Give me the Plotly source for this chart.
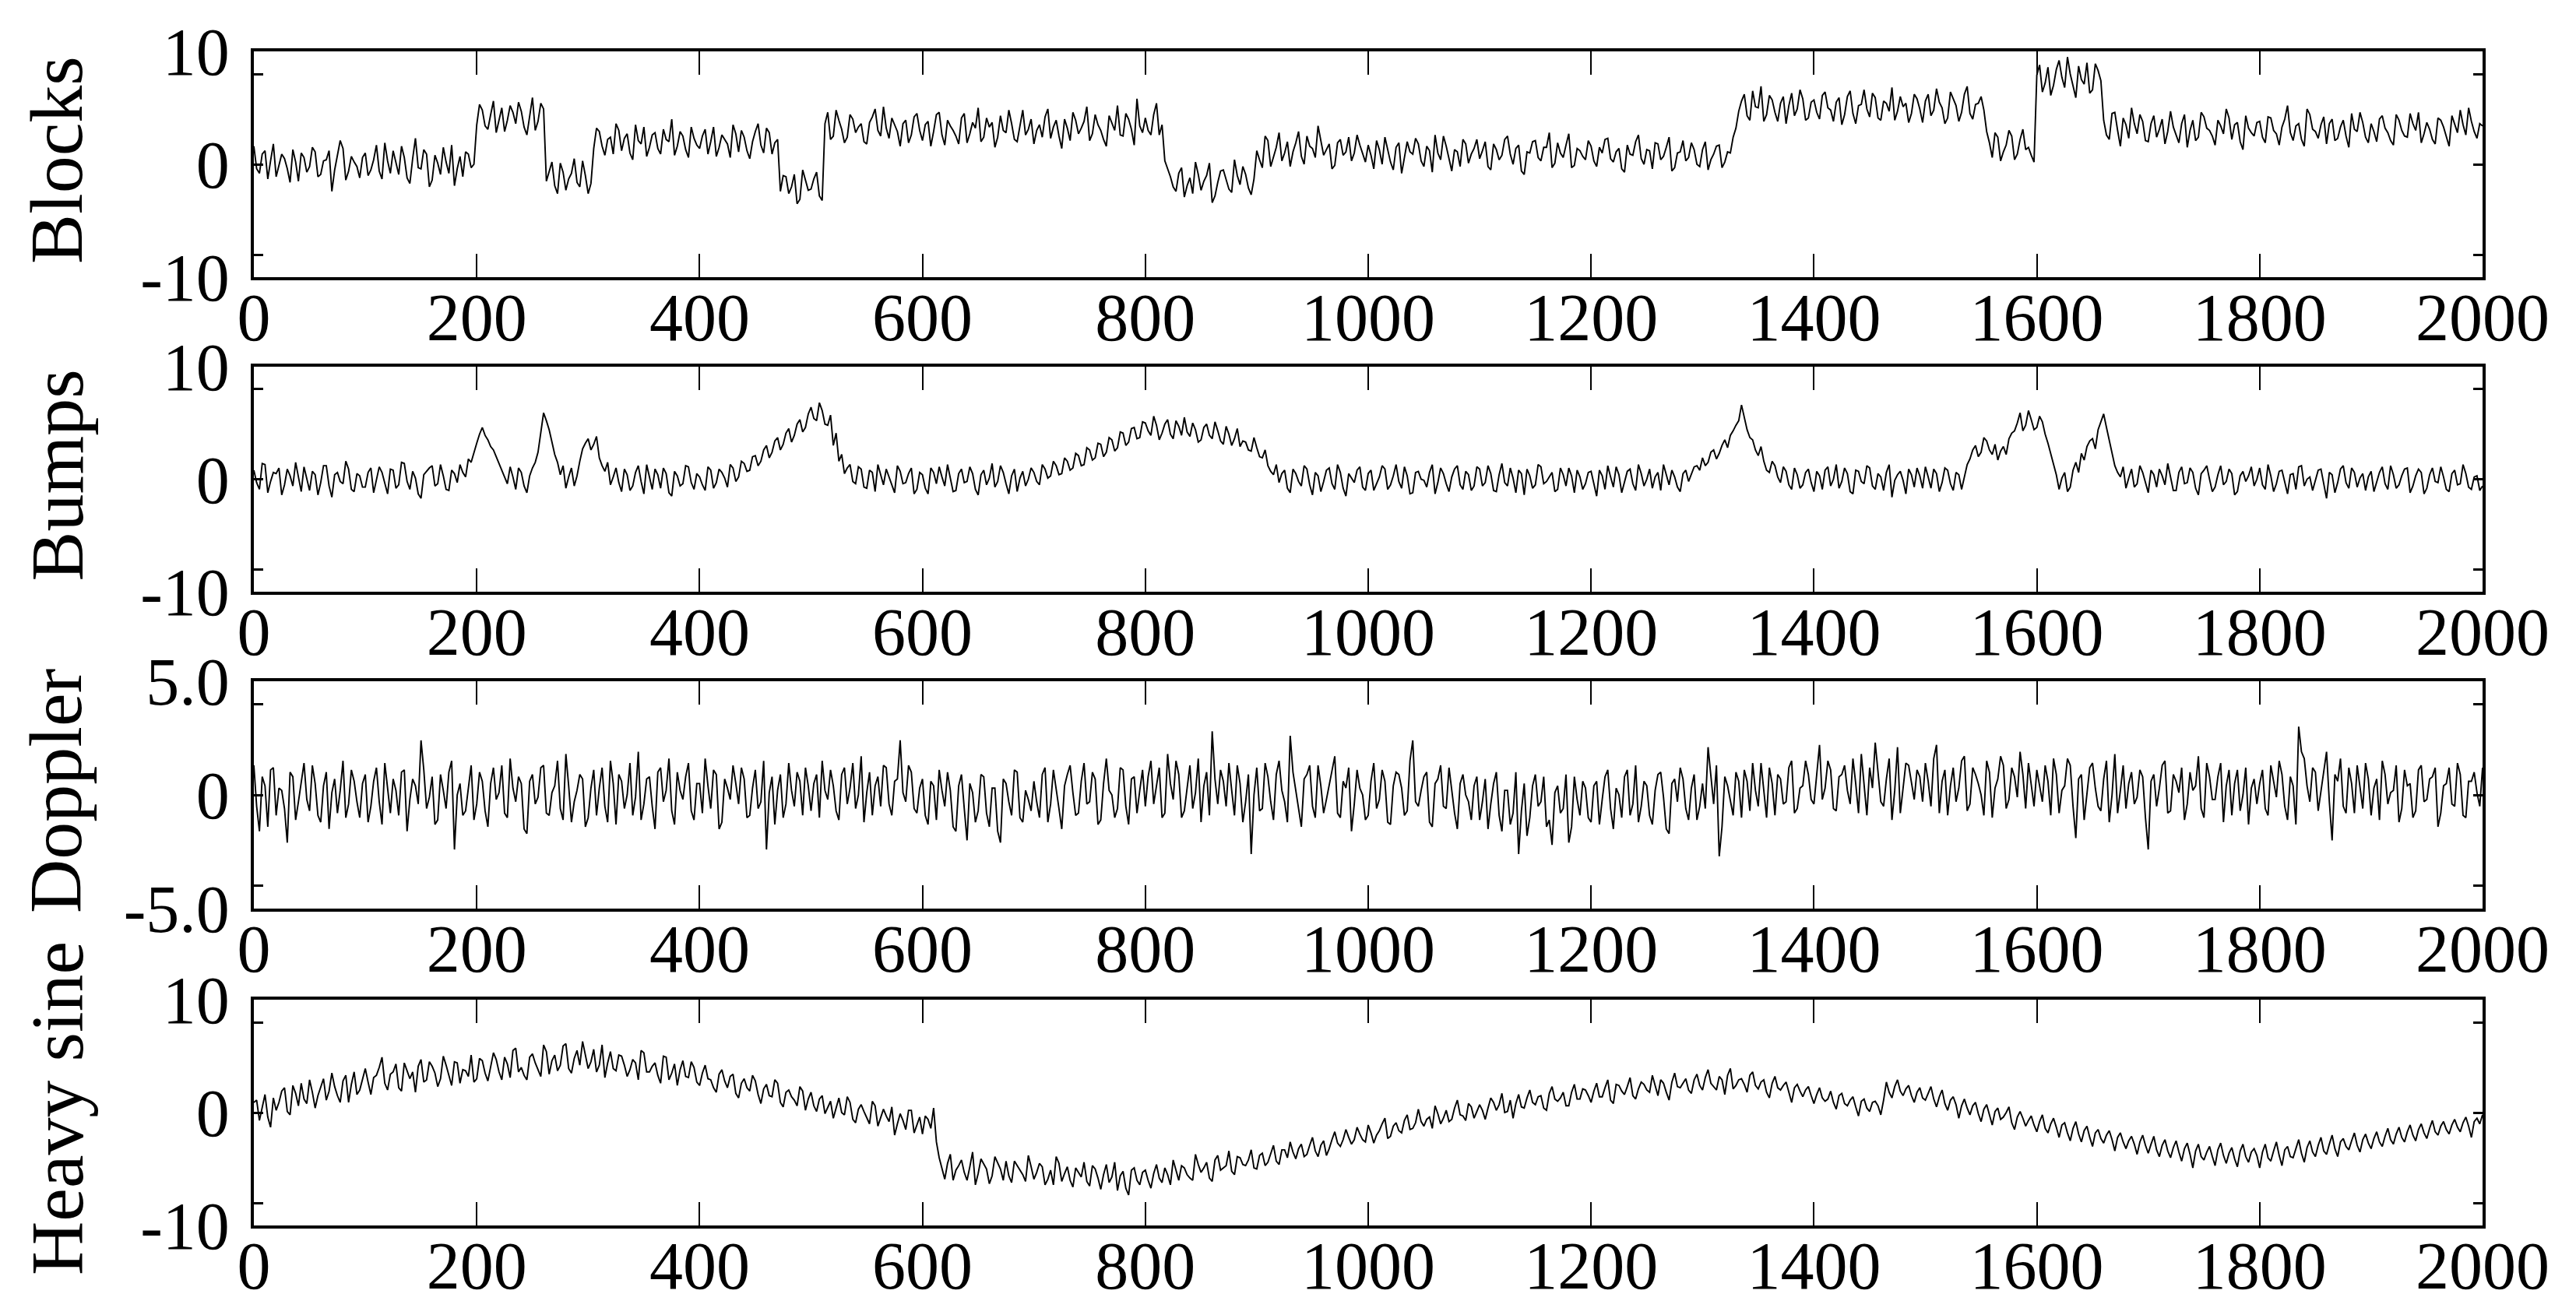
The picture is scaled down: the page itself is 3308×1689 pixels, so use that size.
import plotly.graph_objects as go

# ---------------- data ----------------
# samples at x = 0, 5, 10, ... 2000 ("_a") and at x = 2.5, 7.5, ... 1997.5 ("_b")
x_a = list(range(0, 2001, 5))
x_b = [v + 2.5 for v in range(0, 2000, 5)]

x_tick_vals = [0, 200, 400, 600, 800, 1000, 1200, 1400, 1600, 1800, 2000]
x_tick_text = ["0", "200", "400", "600", "800", "1000", "1200", "1400", "1600", "1800", "2000"]

panel_names = ["Blocks", "Bumps", "Doppler", "Heavy sine"]
y_ranges = [[-10, 10], [-10, 10], [-5, 5], [-10, 10]]
y_tick_vals = [[-10, 0, 10], [-10, 0, 10], [-5, 0, 5], [-10, 0, 10]]
y_tick_text = [["-10", "0", "10"], ["-10", "0", "10"], ["-5.0", "0", "5.0"], ["-10", "0", "10"]]
y_minor_vals = [[-8, 8], [-8, 8], [-4, 4], [-8, 8]]

blocks_a = [
    1.6, -0.8, 1.2, 0.3, -1.1, 0.9, -0.4, 1.3, -1.5, 0.6, -0.2, 1.1, -0.9, 0.4, -2.4, 0.8, 1.4, -0.6, 0.2, -1.2,
    1.0, -0.5, 1.7, -1.3, 0.3, 1.2, -0.9, 0.6, -1.7, 2.3, -0.4, 0.9, -1.4, 0.1, 1.5, -0.8, -1.9, 0.7, 1.1, -0.3,
    3.5, 4.8, 3.1, 5.6, 4.0, 2.9, 5.2, 3.6, 4.7, 2.6, 5.9, 3.8, 4.9, -0.6, -1.9, 0.1, -2.3, -0.8, -1.6, 0.3,
    -2.6, 1.4, 2.9, 0.8, 2.4, 3.6, 1.2, 2.7, 0.4, 2.1, 3.3, 1.5, 2.8, 0.9, 2.2, 4.0, 1.6, 2.5, 0.6, 2.3,
    1.4, 3.1, 2.0, 0.7, 2.6, 1.8, 3.5, 1.1, 2.4, 0.5, 2.9, 1.7, 3.2, 0.9, 2.2, -1.0, -2.6, -0.9, -3.1, -1.4,
    -2.2, -0.7, -3.2, 4.6, 2.5, 3.9, 1.9, 4.4, 2.8, 3.6, 1.8, 4.2, 3.0, 5.1, 2.3, 3.5, 1.6, 3.9, 2.6, 4.5,
    2.1, 3.8, 2.9, 4.6, 1.7, 3.4, 2.5, 4.1, 1.9, 3.7, 5.0, 2.4, 3.3, 1.5, 4.3, 2.8, 3.6, 2.0, 4.8, 3.1,
    1.8, 3.5, 4.2, 2.3, 3.9, 1.4, 3.2, 4.6, 2.7, 3.8, 2.1, 4.4, 3.0, 1.6, 3.7, 5.2, 2.5, 4.0, 1.7, 3.4,
    4.1, 2.6, 5.4, 3.5, -0.4, -2.0, -0.8, -2.9, -1.2, 0.2, -2.3, -1.0, -3.4, -1.6, -0.5, -2.2, 0.4, -1.8, -0.9, -2.7,
    1.2, -0.3, 2.1, 0.6, 2.8, 1.0, -0.2, 1.9, 0.7, 2.5, 1.4, 3.4, 0.8, 1.8, -0.1, 2.2, 1.1, 0.3, 2.6, 0.9,
    1.7, -0.4, 1.3, 2.4, 0.2, 1.5, -0.8, 2.0, 0.9, 1.8, -0.2, 1.2, 2.6, 0.4, 1.6, -0.6, 1.1, 2.2, 0.1, 1.4,
    0.5, 2.0, -0.5, 1.3, 0.8, 2.5, 0.0, 1.7, -0.9, 1.0, 2.1, 0.3, 1.5, -0.3, 1.9, 0.6, 2.7, -0.1, 1.2, 0.4,
    1.6, -0.2, 1.0, 2.3, 0.2, 1.4, -0.7, 0.9, 2.0, 0.5, 1.3, -0.4, 1.8, 0.7, 2.4, -0.3, 1.1, 0.3, 1.9, 0.0,
    1.3, -0.5, 0.9, 1.7, 0.2, 1.0, 3.2, 5.6, 4.3, 6.5, 5.0, 3.8, 6.1, 4.6, 5.4, 3.6, 6.3, 4.9, 5.8, 4.1,
    5.7, 4.0, 6.4, 4.8, 5.5, 3.5, 6.0, 4.5, 5.2, 6.6, 4.2, 5.9, 3.9, 5.4, 6.8, 4.7, 5.1, 3.7, 6.2, 4.9,
    5.6, 4.3, 6.7, 5.0, 4.1, 5.8, 3.8, 6.2, 4.5, 5.3, 6.0, 2.9, 0.6, 2.4, 1.1, 3.0, 0.4, 2.2, 1.3, 0.8,
    7.9, 6.4, 8.6, 7.0, 9.2, 6.8, 8.0, 5.9, 7.5, 9.0, 6.6, 8.3, 3.9, 2.2, 4.6, 1.6, 3.5, 5.0, 2.7, 3.8,
    2.0, 4.3, 3.1, 1.8, 4.7, 2.6, 3.6, 1.5, 3.9, 2.4, 4.2, 3.0, 1.7, 3.4, 4.9, 2.2, 3.7, 1.3, 3.2, 2.5,
    3.8, 1.9, 4.1, 2.7, 3.3, 5.2, 2.1, 3.6, 1.6, 4.4, 2.9, 3.5, 1.8, 4.0, 2.3, 3.9, 1.5, 3.1, 4.6, 2.4,
    3.6, 2.0, 4.3, 2.8, 1.7, 3.9, 2.5, 4.5, 3.0, 1.9, 3.7, 2.2, 4.1, 3.3, 1.6, 3.5, 4.8, 2.6, 3.8, 2.3,
    3.4,
]
blocks_b = [
    -0.4, 0.9, -1.3, 1.8, -0.1, 0.5, -1.6, 0.2, 1.0, -0.7, 1.5, -1.1, 0.3, 1.2, -0.5, 2.1, -1.4, 0.7, -0.2, 0.6,
    -1.0, 0.4, -0.6, 1.9, -0.8, 0.1, 1.6, -1.2, 0.5, -0.3, 1.3, -2.0, 0.8, -0.9, 0.2, 1.7, -0.4, -1.1, 0.9, 0.0,
    5.3, 3.4, 4.4, 2.8, 5.0, 3.9, 4.6, 5.5, 3.3, 4.1, 3.0, 5.4, -1.5, 0.2, -2.6, -0.7, -1.3, 0.5, -2.0, -1.0,
    -1.7, 3.2, 1.6, 2.2, 0.9, 3.0, 2.3, 1.0, 3.5, 1.8, 0.7, 2.6, 1.4, 3.1, 2.0, 0.8, 2.9, 1.3, 3.3, 1.7,
    2.5, 0.9, 3.3, 1.5, 2.2, 0.6, 2.7, 3.0, 1.2, 2.0, 3.6, 1.0, 2.8, 1.9, -2.4, -1.1, -2.0, -3.5, -0.5, -2.3,
    -1.3, -2.8, 3.6, 2.2, 4.8, 3.1, 2.4, 4.0, 3.3, 2.0, 3.7, 4.9, 2.5, 3.2, 4.1, 2.9, 3.6, 1.9, 4.2, 3.0,
    3.5, 1.6, 4.4, 2.6, 3.9, 3.0, 1.8, 4.5, 2.7, 3.2, 2.0, 4.1, 3.7, 2.4, 3.0, 4.8, 2.2, 3.4, 2.6, 4.0,
    3.0, 2.4, 4.9, 3.3, 2.5, 4.0, 2.1, 3.9, 3.2, 5.1, 2.7, 3.5, 2.2, 4.3, 3.0, 2.6, 4.5, 3.1, 5.8, 2.8,
    3.0, 4.4, 2.6, 0.3, -1.1, -2.4, -0.3, -1.9, -2.6, -0.9, -1.5, 0.1, -2.8, -0.6, -1.4, -2.5, -1.0, -0.2, -2.1, -1.3,
    0.4, 2.5, -0.2, 1.5, 0.3, 2.0, 1.1, 2.9, 0.0, 1.6, 0.6, 2.2, 1.3, -0.4, 1.9, 0.8, 2.4, 1.0, 1.7, 0.2,
    0.8, 2.1, 0.0, 1.4, -0.5, 1.9, 0.6, 1.1, 2.3, 0.3, 1.6, -0.7, 1.0, 2.5, 0.5, 1.3, -0.2, 1.8, 0.9, 2.2,
    1.2, -0.2, 1.8, 0.4, 2.2, 0.9, 1.4, -0.6, 1.1, 2.0, 0.6, 1.5, 2.8, 0.1, 1.0, 1.7, -0.3, 1.4, 0.7, 2.1,
    0.3, 1.5, 2.2, 0.5, 1.1, -0.4, 1.7, 0.8, 2.6, 0.0, 1.2, 1.9, 0.4, 1.5, -0.6, 1.0, 2.1, 0.6, 1.3, -0.2,
    2.0, 0.4, 1.6, -0.3, 1.1, 2.4, 4.7, 6.2, 3.9, 5.1, 6.9, 4.4, 5.7, 3.8, 6.0, 5.2, 4.3, 6.6, 3.9, 5.5,
    4.6, 6.1, 5.0, 3.8, 5.9, 4.4, 6.5, 3.6, 5.3, 4.9, 6.3, 4.1, 5.6, 4.7, 3.9, 6.0, 5.4, 4.5, 5.8, 3.7,
    6.2, 4.8, 5.5, 3.6, 6.4, 5.2, 4.6, 6.9, 4.0, 5.4, 4.8, 1.9, 2.8, 0.3, 1.7, 2.5, 0.9, 3.1, 1.5, 0.2,
    8.8, 7.2, 6.1, 8.4, 7.7, 9.5, 6.9, 8.7, 7.1, 6.3, 8.9, 7.4, 2.6, 4.5, 3.0, 4.1, 2.3, 3.6, 4.4, 2.1,
    3.6, 2.4, 4.0, 2.9, 3.3, 1.9, 4.4, 3.0, 2.1, 4.6, 3.2, 2.5, 3.9, 2.7, 4.1, 3.5, 2.0, 4.3, 2.8, 3.7,
    2.4, 4.2, 3.0, 1.7, 4.0, 2.8, 3.4, 2.2, 4.9, 3.1, 2.3, 4.2, 3.6, 2.1, 3.3, 2.5, 4.5, 2.9, 3.7, 1.9,
    2.9, 4.0, 3.2, 2.1, 4.4, 3.0, 2.4, 3.6, 4.6, 2.7, 3.1, 1.8, 3.9, 2.5, 4.3, 2.8, 3.5, 5.0, 2.9, 3.6,
]

bumps_a = [
    0.8, -0.9, 1.3, -0.2, 0.5, -1.4, 0.9, -0.6, 0.2, 1.1, -1.0, 0.4, -0.3, 1.2, -1.6, 0.6, -0.4, 0.9, -1.1, 0.3,
    -0.7, 1.0, -0.1, 0.6, -1.3, 0.8, -0.5, 1.4, -0.9, 0.1, -1.7, 0.7, 1.2, -0.4, 0.3, -1.0, 0.5, 1.3, 0.2, 1.5,
    3.2, 4.6, 3.5, 2.6, 1.4, 0.3, 1.1, -0.9, 0.6, -1.2, 1.0, 2.4, 5.9, 4.4, 2.2, 0.4, -0.8, 1.0, 0.3, 2.7,
    3.6, 3.1, 1.9, 0.7, -0.5, 1.0, -1.1, 0.4, -0.6, 1.2, -1.3, 0.2, 0.9, -0.8, 0.5, -1.5, 0.3, -0.4, 1.1, -0.9,
    0.2, -1.0, 0.8, -0.3, 0.6, -0.7, 1.0, 0.2, 1.4, 0.8, 2.1, 1.6, 3.0, 2.4, 3.7, 3.1, 4.5, 3.9, 5.3, 4.6,
    6.4, 5.2, 6.1, 4.8, 3.0, 1.6, 0.5, 1.3, -0.4, 0.9, -0.8, 0.6, 1.3, -0.5, 0.2, -1.2, 0.7, -0.3, 1.0, -0.9,
    0.4, -1.3, 0.6, 1.1, -0.6, 0.2, -1.0, 0.9, -0.2, 0.5, -1.4, 0.8, 0.1, -0.7, 1.2, -0.4, 0.3, -1.1, 0.7, 0.0,
    0.6, -0.5, 0.9, 0.3, 1.2, 0.5, 1.6, 1.0, 2.1, 1.3, 2.6, 1.9, 3.1, 2.4, 3.5, 2.8, 4.1, 3.3, 4.6, 3.7,
    5.0, 3.9, 4.8, 4.1, 5.3, 3.6, 4.7, 5.5, 3.8, 4.4, 3.5, 4.9, 3.6, 4.3, 3.1, 4.0, 3.6, 2.9, 3.3, 2.5,
    2.8, 1.9, 1.2, 0.4, -0.3, 0.8, -1.2, 0.5, -0.6, 0.9, -1.4, 0.3, -0.2, 1.0, -0.9, 0.6, -1.5, 0.1, 0.8, -0.7,
    0.5, -1.0, 0.2, 0.9, -0.5, 1.3, -0.8, 0.3, -1.2, 0.7, -0.1, 0.6, -1.3, 1.0, -0.4, 0.2, 1.2, -0.9, 0.4, -0.6,
    0.9, -0.3, 0.5, -1.1, 1.4, -0.6, 0.1, 0.8, -1.4, 0.3, -0.5, 1.1, -0.2, 0.6, -0.9, 0.4, 1.0, -1.2, 0.2, -0.4,
    0.7, -1.5, 0.3, 1.2, -0.7, 0.4, -0.2, 0.9, -1.0, 0.5, 0.0, -0.8, 0.6, 1.3, -0.5, 0.2, -1.1, 0.8, 0.4, 1.2,
    1.9, 1.5, 2.6, 2.3, 3.5, 3.9, 4.8, 6.6, 4.4, 3.5, 2.1, 1.6, 0.6, 1.2, -0.3, 0.7, -0.9, 0.4, -0.5, 0.9,
    -1.1, 0.3, 0.8, -0.6, 1.3, -0.2, 0.5, -1.3, 0.7, -0.4, 1.0, -0.9, 0.2, 0.6, -1.6, 0.4, -0.1, 0.9, -0.7, 0.3,
    1.1, -0.8, 0.5, -0.3, 0.8, -1.0, 0.4, 0.1, 1.8, 3.0, 2.4, 3.4, 2.2, 1.7, 2.9, 3.6, 4.3, 5.9, 4.8, 5.3,
    4.6, 5.1, 3.2, 1.3, -0.9, 0.6, -0.7, 1.5, 2.3, 2.9, 3.6, 4.4, 5.8, 3.5, 1.2, 0.2, -0.8, 0.9, -0.4, 0.6,
    -1.2, 0.4, 0.9, -0.5, 0.2, -1.0, 1.1, -0.3, 0.6, -1.4, 0.8, 0.0, -0.7, 1.2, -0.2, 0.5, -1.1, 0.7, 0.3, -0.6,
    1.0, -0.9, 0.3, -0.4, 0.8, -1.3, 0.5, 1.1, -0.6, 0.2, -0.1, 0.9, -1.7, 0.4, -0.3, 1.2, -0.8, 0.6, 0.1, -1.0,
    0.7, -0.2, 1.1, -0.9, 0.4, -0.5, 0.9, -1.2, 0.3, 0.6, -0.8, 1.0, -0.3, 0.2, -1.1, 0.8, -0.4, 0.5, -0.9, 0.3,
    -0.6,
]
bumps_b = [
    -0.3, 1.4, -1.2, 0.6, 1.0, -0.5, 0.3, 1.5, -1.1, 0.0, 0.7, -1.4, 1.2, -0.6, 0.4, -0.2, 1.6, -0.9, 0.5, -0.7,
    0.6, -1.2, 1.1, -0.4, 0.9, -0.8, 1.5, -0.2, 0.7, -1.3, 0.4, 1.0, -0.6, 1.3, -0.9, 0.8, -0.3, 0.6, 1.8, 2.4,
    4.0, 3.9, 2.9, 2.0, 0.8, -0.4, 0.2, 1.0, -0.6, 0.3, 1.5, 4.1, 5.2, 3.3, 1.5, 1.2, 0.2, -0.6, 1.6, 3.2,
    2.6, 3.8, 1.2, 1.5, 0.2, -0.3, 0.9, -1.0, 0.6, -0.2, 1.3, -0.9, 0.4, 1.0, -1.2, 0.7, -0.6, 1.2, -0.3, 0.5,
    -0.5, 1.1, -0.8, 0.9, 0.1, 1.3, -0.2, 1.6, 0.7, 2.0, 1.2, 2.6, 1.9, 3.4, 2.6, 4.1, 3.3, 4.9, 4.2, 5.8,
    5.4, 6.8, 4.9, 5.7, 4.1, 2.2, 1.0, -0.2, 1.1, -0.7, 0.8, -1.1, 0.3, 0.9, -0.6, 1.2, -0.4, 0.5, -1.3, 0.6,
    -0.8, 1.0, -0.4, 0.2, 1.3, -1.1, 0.5, -0.3, 1.1, -0.9, 0.4, -0.5, 1.4, -0.2, 0.6, -1.3, 0.9, 0.1, -0.6, 1.0,
    -0.2, 1.3, 0.1, 1.6, 0.4, 1.9, 0.8, 2.3, 1.2, 2.8, 1.7, 3.2, 2.0, 3.7, 2.5, 4.2, 3.0, 4.5, 3.6, 5.1,
    4.3, 5.6, 3.5, 4.9, 4.0, 5.2, 3.9, 4.2, 5.0, 3.3, 4.6, 3.9, 5.1, 3.4, 4.7, 3.0, 4.5, 3.4, 2.6, 3.7,
    2.0, 2.6, 0.7, 1.3, 0.5, -0.8, 0.9, -0.2, 1.2, -0.5, 0.6, -1.1, 0.8, -0.4, 1.3, -0.8, 0.5, -0.3, 1.1, -1.0,
    0.8, -0.4, 1.2, -0.9, 0.3, -0.2, 1.1, -1.3, 0.6, 0.0, -0.7, 1.3, -0.3, 0.5, -1.1, 0.9, -0.5, 0.7, -1.0, 1.1,
    -0.6, 1.2, -1.0, 0.4, -0.3, 1.0, -1.2, 0.5, 0.9, -0.8, 1.3, -0.4, 0.2, -1.1, 1.0, -0.6, 0.3, 0.8, -0.9, 0.6,
    -0.4, 0.8, -0.9, 0.2, 1.1, -1.2, 0.7, -0.4, 1.3, -0.6, 0.9, 0.2, -1.0, 0.4, 0.8, -0.7, 0.5, -0.2, 1.1, 0.8,
    1.2, 2.4, 1.8, 3.0, 2.8, 4.3, 5.2, 5.6, 3.7, 2.6, 2.9, 0.8, 1.6, 0.2, 1.1, -0.5, 1.0, -0.8, 0.6, -0.3,
    0.7, -0.9, 1.1, 0.0, -0.8, 1.0, -1.1, 0.8, -0.2, 1.2, -0.6, 0.5, -1.0, 1.3, -0.1, 0.7, -1.3, 0.4, 1.0, -0.8,
    0.2, 0.9, -1.1, 1.0, -0.4, 0.6, -0.9, 1.3, 2.6, 2.0, 3.7, 2.6, 3.1, 2.5, 2.2, 4.1, 5.0, 4.3, 6.1, 4.4,
    5.6, 4.0, 2.2, 0.4, 0.1, -1.1, 0.8, 0.6, 1.7, 3.4, 2.7, 5.1, 4.6, 2.4, 0.6, 1.1, 0.1, -0.7, 1.2, -0.3,
    0.8, -0.7, 0.3, 1.4, -1.0, 0.6, -0.4, 1.0, -0.8, 0.5, 1.2, -1.1, 0.4, -0.5, 0.9, -1.4, 0.3, -0.2, 1.1, 0.0,
    -0.5, 1.3, -1.1, 0.7, -0.2, 0.4, -0.9, 1.2, 0.0, -1.0, 0.8, -0.4, 0.6, -1.2, 0.9, -0.3, 1.0, -0.7, 0.5, 0.2,
    -1.1, 0.6, -0.4, 1.2, -0.8, 0.3, 1.0, -0.6, 0.9, -1.3, 0.4, -0.2, 1.1, -0.9, 0.5, -0.5, 1.3, -0.7, 0.2, -1.0,
]

doppler_a = [
    1.3, -1.6, 0.4, 1.1, -0.9, 0.2, -2.1, 0.8, -0.3, 1.4, -0.7, 0.5, -1.2, 1.0, 0.1, -0.8, 1.5, -0.4, 0.6, -1.0,
    0.9, -0.5, 1.2, -1.3, 0.3, 0.7, -0.9, 1.1, -0.2, 0.4, 2.4, -0.6, 0.8, -1.1, 0.2, 1.0, -2.4, 0.5, -0.7, 1.3,
    -0.4, 0.6, -1.4, 1.2, 0.1, -0.8, 1.6, -0.3, 0.5, -1.7, 0.9, -0.1, 1.3, -0.9, 0.4, -0.6, 1.8, -1.2, 0.2, 0.7,
    -1.0, 1.1, 0.3, -0.5, 1.5, -1.3, 0.6, 0.0, -0.9, 1.9, -0.4, 0.8, -1.5, 1.2, 0.2, -0.7, 1.0, -0.2, 1.4, -1.1,
    0.5, 1.6, -0.6, 0.9, -1.2, 0.3, 1.3, -0.4, 0.7, -0.9, 1.1, -0.3, -2.4, 0.8, 0.2, -1.0, 1.4, -0.5, 0.6, 1.2,
    -0.7, 0.9, 1.5, -0.2, 0.4, -1.1, 1.2, 0.3, -0.6, 1.7, 0.1, -0.9, 0.8, 1.3, -0.4, 0.6, 2.4, -0.3, 1.0, -0.8,
    0.7, -1.3, 0.4, 1.1, -0.5, 0.2, -1.6, 0.9, -2.0, 0.1, -0.7, 0.8, -1.4, 0.3, -2.1, 0.5, -0.9, 1.0, -1.2, -0.2,
    0.6, -1.0, 1.2, -0.4, 0.3, -1.5, 0.9, 0.1, -0.8, 1.4, -0.3, 0.7, -1.1, 1.6, 0.0, -0.6, 1.1, -1.3, 0.8, 0.2,
    -0.5, 1.5, 0.4, -1.0, 1.8, -0.2, 0.9, -0.7, 1.3, 0.1, -1.2, 1.0, 2.8, -0.4, 0.6, 1.4, -0.9, 0.5, -0.3, -2.6,
    1.2, -0.6, 0.8, -1.1, 1.5, -0.3, 2.6, 0.2, -1.4, 0.9, -0.5, 1.3, -0.8, 0.4, 1.7, -1.0, 0.3, -1.6, 1.1, 0.0,
    -0.9, 1.4, -0.2, 0.6, -1.3, 1.0, 0.3, -0.7, 2.4, -0.5, 0.8, -1.2, 0.5, 1.3, -0.6, 0.1, -1.5, 0.9, -0.3, 0.4,
    -1.1, 0.7, -0.4, 1.0, -1.6, 0.2, -0.8, -2.6, 0.5, -1.0, 0.9, -0.3, -1.4, -2.2, 0.4, -0.6, -2.1, 0.8, -0.9, 0.3,
    -1.2, 0.6, -0.2, 1.1, -1.5, 0.0, 0.8, -0.9, 1.3, -0.5, 0.4, -1.3, 0.9, -0.1, -1.7, 0.7, 1.2, -0.6, 0.3, -1.1,
    0.5, 2.1, -0.4, -2.7, 0.8, -0.2, 1.0, -1.0, 0.6, 1.4, -0.5, 0.2, 1.2, -0.9, 0.7, -0.3, 1.5, -0.6, 0.4, 0.9,
    -0.4, 2.2, 0.3, 1.1, -0.7, 0.9, 0.2, 1.6, -0.8, 0.5, 1.2, 2.3, -0.3, 0.7, -1.1, 2.1, 0.4, 1.3, -0.2, 0.8,
    1.4, -0.5, 2.2, 0.6, -0.9, 1.2, 0.3, 1.7, -0.4, 0.9, 0.0, 1.5, -1.0, 0.7, 1.3, -0.2, 0.8, 1.9, -0.6, 0.4,
    1.1, -0.3, 0.6, 1.6, -0.8, 0.4, 1.3, -1.9, 0.9, 0.1, 1.4, -0.5, 0.7, -1.2, 1.8, 0.2, -0.6, 1.0, -0.1, 0.8,
    -2.4, 0.9, 0.3, 1.5, -0.7, 0.6, 1.2, -0.4, 0.2, 1.7, -1.0, 0.8, -0.2, 1.4, 0.4, -0.9, 1.1, 0.0, -1.3, 0.7,
    0.5, -0.6, 1.3, -0.1, 0.9, -1.1, 0.4, 3.0, 1.6, -0.3, 1.0, 0.2, 1.9, -2.0, 0.6, -0.5, 1.2, -0.8, 0.3, 1.4,
    -0.9, 0.7, 1.5, -0.4, 0.2, -1.2, 1.1, 0.5, -0.7, 1.3, -0.2, 0.8, -1.4, 0.4, 1.2, -0.5, 0.9, -1.0, 0.6, 0.1,
    1.2,
]
doppler_b = [
    -0.5, 0.8, -1.4, 1.2, 0.3, -0.6, 1.0, -1.1, 0.6, -0.2, 1.3, -0.9, 0.4, -1.5, 0.7, 0.2, -1.0, 1.1, -0.3, 0.5,
    -1.2, 0.6, -0.3, 1.4, -0.8, 0.2, 1.0, -1.6, 0.7, -0.4, 1.1, -0.1, -1.3, 0.9, -0.6, 1.5, 0.0, -0.9, 0.4, -1.1,
    1.0, -0.7, 0.5, -0.2, 1.3, -1.0, 0.3, 0.8, -1.5, 0.6, -0.4, 1.2, -0.8, 0.1, 1.5, -1.1, 0.4, -0.3, 0.9, -1.4,
    0.3, -0.9, 1.2, -1.2, 0.5, 0.9, -0.6, 1.4, -0.1, -1.1, 0.7, -0.5, 1.0, -0.3, 1.6, -1.3, 0.2, 0.8, -0.7, 0.5,
    -0.8, 0.4, 1.1, -1.5, 0.7, -0.2, 0.5, 1.2, -1.0, 0.3, -0.6, 1.5, 0.1, -1.3, 0.9, -0.4, 0.2, 1.0, -0.9, 0.4,
    0.5, -1.0, 0.2, 1.1, -0.7, 0.9, -0.4, 1.4, 0.0, -1.2, 1.0, 0.4, -0.5, 1.2, -0.9, 0.7, 0.1, 1.3, -0.6, 0.3,
    -0.9, 0.6, -1.1, 0.2, 1.0, -1.4, 0.4, -0.6, 0.5, -1.2, 0.9, -0.8, 0.3, -1.6, 0.7, -0.3, 1.1, -1.0, 0.2, -0.7,
    -0.3, 0.9, -1.2, 1.1, -0.6, 0.4, 1.3, -0.9, 0.6, -0.4, 1.0, -1.3, 0.5, 0.2, -1.0, 1.2, -0.5, 0.7, -0.8, 1.1,
    0.8, -0.4, 1.2, -0.8, 0.5, 1.5, -1.0, 0.3, -0.6, 1.6, 0.4, -0.9, 0.7, 1.1, -0.5, 0.2, 1.3, -1.2, 0.9, 0.0,
    -0.7, 1.4, -0.3, 0.9, 0.2, -1.2, 1.0, -0.5, 0.7, 1.3, -1.0, 0.4, -0.2, 1.1, -0.8, 0.6, 1.2, -0.4, 0.3, -1.1,
    0.6, -0.6, 1.1, -1.2, 0.4, 0.9, -0.9, 1.5, -0.3, 0.2, 1.0, -1.4, 0.7, -0.5, 1.2, -0.8, 0.5, 0.0, -1.1, 0.8,
    -0.3, -1.5, 0.5, -0.9, 0.2, -1.3, 1.0, -0.7, -1.8, 0.4, -0.5, 0.8, -1.1, 0.1, -0.8, 0.9, -1.4, -0.2, 0.6, -1.0,
    0.4, -1.3, 0.8, -0.6, 0.3, -1.0, 1.1, -0.4, -1.2, 0.6, -0.9, 0.2, 1.0, -1.5, 0.5, -0.3, 0.7, -1.1, 0.9, -0.5,
    -0.6, 0.8, 1.3, -1.4, 0.4, -0.9, 0.6, 1.1, -0.7, 0.2, 1.4, -1.0, 0.5, 0.9, -0.4, 1.2, -0.8, 0.3, 1.5, -0.2,
    1.0, -0.2, 1.5, -0.6, 0.8, 1.3, -0.4, 0.5, 1.8, -0.9, 0.3, 1.0, -0.5, 1.6, 0.2, -0.8, 1.4, 0.6, 1.1, -0.3,
    0.6, 1.6, -0.8, 1.1, 0.4, -0.3, 1.5, -0.7, 1.2, 0.5, -0.9, 1.0, 0.3, 1.7, -0.6, 1.2, -0.1, 0.9, 1.4, -0.5,
    0.4, 1.3, -0.9, 0.9, 0.2, 1.6, -0.5, 0.7, -1.1, 1.2, 0.3, -0.7, 1.5, 0.0, -0.8, 1.3, 0.5, -0.4, 1.1, -1.0,
    0.6, -0.5, 1.3, -0.8, 0.9, 0.1, -1.1, 1.0, 0.4, -0.6, 1.4, -0.2, 0.8, -1.2, 1.1, 0.5, -0.7, 1.2, 0.3, -0.4,
    1.1, -0.9, 0.6, 1.5, -0.5, 0.8, -1.3, 1.9, 0.4, 1.2, -0.7, 1.0, -0.3, 0.9, 1.6, -0.8, 0.5, 1.3, -0.6, 0.7,
    0.3, -1.1, 0.9, 0.1, 1.3, -0.6, 0.4, -1.0, 1.1, -0.3, 0.7, 1.2, -0.8, 0.5, -0.4, 1.4, -0.9, 0.6, 1.0, -0.5,
]

heavy_sine_a = [
    0.9, -0.7, 1.6, -1.3, 0.2, 1.9, 0.1, 2.4, 0.6, 1.2, 2.9, 0.4, 2.2, 1.1, 3.5, 1.5, 2.8, 0.9, 3.6, 2.0,
    3.9, 1.6, 3.3, 4.9, 2.0, 3.6, 2.2, 4.4, 3.0, 1.8, 4.7, 2.9, 4.1, 2.3, 5.0, 3.2, 4.5, 2.6, 3.7, 5.1,
    3.0, 4.6, 2.8, 5.3, 3.6, 4.9, 3.1, 5.7, 4.0, 2.9, 5.2, 3.8, 6.0, 3.4, 5.1, 4.2, 6.1, 3.5, 5.5, 6.3,
    3.9, 5.6, 4.2, 3.1, 5.4, 3.7, 5.0, 3.2, 4.7, 2.9, 5.3, 3.6, 4.4, 2.6, 4.9, 3.5, 2.4, 4.6, 3.1, 4.0,
    2.4, 4.2, 2.9, 1.8, 3.8, 2.2, 3.4, 1.3, 3.0, 1.9, 2.8, 0.8, 2.5, 1.4, 2.6, 0.5, 2.0, 1.1, 2.3, 0.2,
    1.8, 0.1, 1.5, 0.4, -0.5, 1.3, -0.2, 0.9, -0.9, 0.7, -0.4, 1.0, -1.2, 0.3, -0.8, -2.0, -0.1, -1.5, 0.2, -1.1,
    -1.9, -0.6, 0.4, -4.0, -5.9, -3.7, -5.1, -4.2, -6.0, -3.5, -5.4, -4.6, -6.3, -3.9, -5.0, -4.3, -6.2, -4.7, -5.5, -3.8,
    -5.9, -4.5, -6.4, -5.1, -3.9, -6.1, -4.8, -6.6, -5.3, -4.4, -6.5, -5.0, -6.8, -4.6, -5.7, -6.9, -5.2, -7.3, -4.9, -6.4,
    -5.1, -6.7, -4.6, -6.2, -5.5, -4.2, -6.0, -4.9, -5.8, -3.7, -5.3, -4.4, -6.1, -3.8, -4.9, -3.4, -5.5, -4.0, -4.7, -3.3,
    -5.0, -3.6, -4.4, -2.9, -4.6, -3.3, -2.6, -4.1, -2.8, -3.7, -2.2, -3.9, -2.5, -3.2, -1.7, -3.0, -1.5, -2.8, -1.3, -2.4,
    -1.1, -2.7, -1.6, -0.5, -2.1, -0.9, -1.8, -0.2, -1.4, 0.3, -1.2, -0.4, 0.6, -1.0, 0.2, -0.6, 1.1, -0.3, 0.8, -0.5,
    0.7, -0.6, 1.3, 0.2, 1.7, 0.1, -0.5, 1.6, 0.4, 2.0, 0.7, 1.5, 0.2, 2.3, 1.0, 1.8, 0.6, 2.5, 1.2, 2.0,
    0.9, 2.6, 1.4, 2.9, 0.8, 2.4, 1.6, 3.1, 1.2, 2.7, 2.0, 3.3, 1.5, 2.6, 1.1, 3.5, 2.2, 3.0, 1.7, 3.4,
    2.0, 3.8, 2.3, 3.2, 1.6, 3.9, 2.4, 3.0, 1.8, 3.6, 2.1, 2.9, 1.3, 3.2, 2.0, 2.7, 0.9, 2.5, 1.4, 2.3,
    0.8, 2.2, 1.0, 1.9, 0.3, 1.7, 0.6, 1.4, -0.3, 1.2, 0.1, 1.0, -0.2, 2.7, 1.3, 2.9, 1.5, 2.4, 0.9, 2.2,
    1.1, 2.3, 0.5, 2.0, 0.2, 1.4, -0.5, 1.2, -0.2, 0.9, -0.8, 0.7, -1.1, 0.4, -0.4, 0.5, -1.5, 0.1, -1.2, -0.3,
    -1.7, -0.2, -1.8, -0.5, -2.2, -0.9, -2.5, -0.8, -2.6, -1.2, -3.0, -1.5, -2.7, -1.6, -3.4, -1.8, -3.2, -2.1, -3.7, -2.0,
    -3.6, -2.1, -3.9, -2.4, -4.0, -2.5, -4.3, -2.7, -4.9, -2.8, -4.2, -3.0, -4.7, -2.7, -4.5, -3.1, -4.8, -2.8, -4.4, -3.2,
    -4.9, -2.8, -4.3, -2.6, -4.7, -3.0, -4.0, -2.4, -4.4, -2.5, -3.9, -2.2, -3.7, -2.0, -3.9, -2.3, -3.3, -1.8, -3.5, -1.9,
    -3.2, -1.7, -3.0, -1.4, -2.8, -1.3, -2.6, -1.1, -2.5, -1.0, -2.3, -0.7, -2.0, -0.8, -1.9, -0.6, -1.7, -0.4, -2.2, -0.5,
    -0.2,
]
heavy_sine_b = [
    1.1, 0.5, -0.4, 1.3, 0.9, 2.2, -0.2, 1.7, 2.6, 0.8, 1.8, 1.5, 3.0, 1.9, 2.3, 0.9, 3.3, 2.5, 1.6, 2.9,
    2.7, 3.1, 4.0, 2.6, 3.4, 4.3, 1.9, 3.7, 3.6, 4.1, 2.7, 4.5, 3.5, 3.0, 4.2, 2.4, 4.4, 3.8, 3.2, 2.7,
    4.8, 3.5, 4.0, 4.7, 2.9, 4.3, 5.5, 3.6, 3.3, 4.9, 4.4, 3.2, 5.4, 4.6, 3.7, 5.9, 3.9, 4.8, 4.2, 5.0,
    4.5, 3.6, 6.0, 4.4, 3.9, 5.1, 4.2, 3.8, 4.4, 5.5, 3.6, 4.1, 3.3, 5.0, 2.9, 4.3, 3.8, 3.2, 4.5, 2.7,
    3.5, 3.0, 2.2, 3.4, 2.8, 3.2, 1.7, 2.6, 2.2, 3.3, 1.6, 2.1, 1.5, 2.9, 0.9, 1.8, 1.4, 0.6, 1.9, 1.2,
    0.6, 1.2, -0.1, 1.0, 0.5, 0.0, 1.4, -0.6, 0.3, 0.1, -1.0, 0.6, -0.5, -0.3, 0.5, -1.0, -0.7, 0.2, -1.8, -0.4,
    -0.3, -1.4, -2.6, -5.0, -4.5, -6.0, -4.7, -5.3, -4.8, -6.4, -4.1, -5.0, -5.6, -4.4, -6.0, -5.6, -4.3, -5.1, -6.1, -4.8,
    -5.3, -4.8, -5.9, -6.4, -4.5, -5.4, -6.0, -4.9, -5.7, -6.1, -4.7, -5.8, -5.5, -6.2, -4.4, -5.6, -6.7, -5.1, -6.0, -5.3,
    -6.0, -5.4, -5.8, -4.9, -6.4, -5.1, -4.7, -5.5, -6.0, -4.6, -4.9, -5.8, -4.2, -5.1, -4.7, -5.2, -3.9, -4.6, -4.2, -4.9,
    -3.8, -4.7, -3.7, -4.3, -3.3, -4.0, -3.5, -3.2, -3.9, -2.9, -3.4, -2.9, -3.8, -2.4, -2.7, -2.4, -2.2, -2.4, -1.9, -2.6,
    -1.8, -2.0, -1.0, -2.3, -1.2, -1.6, -0.7, -1.5, -0.9, -0.8, -0.6, -1.4, -0.1, -0.5, -0.8, 0.4, -0.2, -0.7, 0.5, 0.1,
    0.2, 0.4, 0.9, 0.7, 0.0, 1.1, 0.8, 0.5, 1.3, 0.9, 1.4, 0.4, 1.7, 1.2, 1.3, 0.6, 1.8, 1.2, 2.1, 1.5,
    1.9, 1.4, 2.2, 1.1, 2.5, 1.9, 2.3, 1.5, 2.1, 2.5, 1.8, 2.4, 2.9, 1.8, 2.7, 2.3, 2.6, 2.0, 2.9, 2.4,
    3.1, 2.6, 2.0, 2.9, 3.3, 2.1, 2.9, 2.5, 3.3, 2.4, 2.7, 1.8, 2.6, 2.2, 2.4, 1.7, 2.2, 1.9, 2.0, 1.5,
    1.6, 1.3, 1.2, 0.9, 1.5, 0.8, 1.1, 0.5, 1.0, 0.4, 0.9, 0.6, 1.1, 1.8, 2.3, 1.9, 2.1, 1.5, 1.8, 1.3,
    1.7, 1.2, 1.4, 0.8, 1.1, 0.7, 0.6, 0.4, 0.6, -0.1, 0.3, -0.2, 0.1, -0.6, 0.0, -0.9, -0.4, -0.5, -0.7, -1.1,
    -0.8, -1.4, -1.0, -1.3, -1.1, -1.8, -1.4, -1.9, -1.6, -2.2, -1.8, -2.3, -2.0, -2.4, -2.2, -2.6, -2.5, -2.8, -2.6, -2.9,
    -2.8, -3.3, -2.9, -3.4, -3.1, -3.5, -3.2, -3.7, -3.4, -3.9, -3.5, -3.9, -3.3, -3.8, -3.6, -4.1, -3.4, -3.9, -3.5, -3.8,
    -3.5, -4.0, -3.4, -3.8, -3.3, -3.9, -3.2, -3.6, -3.1, -3.5, -2.9, -3.4, -2.8, -3.2, -2.6, -3.0, -2.5, -2.9, -2.4, -2.7,
    -2.3, -2.6, -2.1, -2.4, -1.9, -2.2, -1.7, -2.0, -1.5, -1.8, -1.4, -1.7, -1.2, -1.5, -1.1, -1.3, -0.9, -1.2, -0.8, -1.0,
]

series_a = [blocks_a, bumps_a, doppler_a, heavy_sine_a]
series_b = [blocks_b, bumps_b, doppler_b, heavy_sine_b]
for nm, sa, sb in zip(panel_names, series_a, series_b):
    assert len(sa) == len(x_a), (nm, "a", len(sa))
    assert len(sb) == len(x_b), (nm, "b", len(sb))


def merge(xa, ya, xb, yb):
    """Put the two sets of read samples in x order."""
    pts = sorted(list(zip(xa, ya)) + list(zip(xb, yb)))
    return [p[0] for p in pts], [p[1] for p in pts]


# ---------------- layout geometry ----------------
W, H = 3308, 1689
x_left_px, x_right_px = 318, 3180
panel_px = [(58, 348), (463, 752), (867, 1159), (1276, 1566)]
title_x_px = [65, 65, 64, 65]

FONT = "Liberation Serif"
fig = go.Figure()

for i, name in enumerate(panel_names):
    k = "" if i == 0 else str(i + 1)
    xs, ys = merge(x_a, series_a[i], x_b, series_b[i])
    fig.add_trace(go.Scatter(
        x=xs, y=ys, mode="lines",
        line=dict(color="black", width=1.9),
        xaxis="x" + k, yaxis="y" + k, showlegend=False, hoverinfo="skip",
    ))
    top, bot = panel_px[i]
    fig.layout["xaxis" + k] = dict(
        domain=[x_left_px / W, x_right_px / W], anchor="y" + k, automargin=False,
        range=[0, 2000], tickmode="array", tickvals=x_tick_vals, ticktext=x_tick_text,
        ticks="inside", ticklen=30, tickwidth=2, tickcolor="black",
        showline=True, linecolor="black", linewidth=4, mirror="ticks",
        showgrid=False, zeroline=False, ticklabelstandoff=-26,
        tickfont=dict(family=FONT, size=86, color="black"),
    )
    fig.layout["yaxis" + k] = dict(
        domain=[1 - bot / H, 1 - top / H], anchor="x" + k, automargin=False,
        range=y_ranges[i], tickmode="array", tickvals=y_tick_vals[i], ticktext=y_tick_text[i],
        ticks="inside", ticklen=12, tickwidth=3, tickcolor="black",
        minor=dict(tickmode="array", tickvals=y_minor_vals[i], ticks="inside",
                   ticklen=12, tickwidth=3, tickcolor="black", showgrid=False),
        showline=True, linecolor="black", linewidth=4, mirror="ticks",
        showgrid=False, zeroline=False, ticklabelstandoff=10,
        tickfont=dict(family=FONT, size=86, color="black"),
    )
    fig.add_annotation(
        text=name, textangle=-90, showarrow=False,
        xref="paper", yref="paper",
        x=title_x_px[i] / W, y=1 - ((top + bot) / 2 - 5) / H,
        xanchor="center", yanchor="middle",
        font=dict(family=FONT, size=96, color="black"),
    )

fig.update_layout(
    width=W, height=H,
    margin=dict(l=0, r=0, t=0, b=0, pad=0, autoexpand=False),
    paper_bgcolor="white", plot_bgcolor="white",
    showlegend=False,
)

fig.write_html("out.html")
